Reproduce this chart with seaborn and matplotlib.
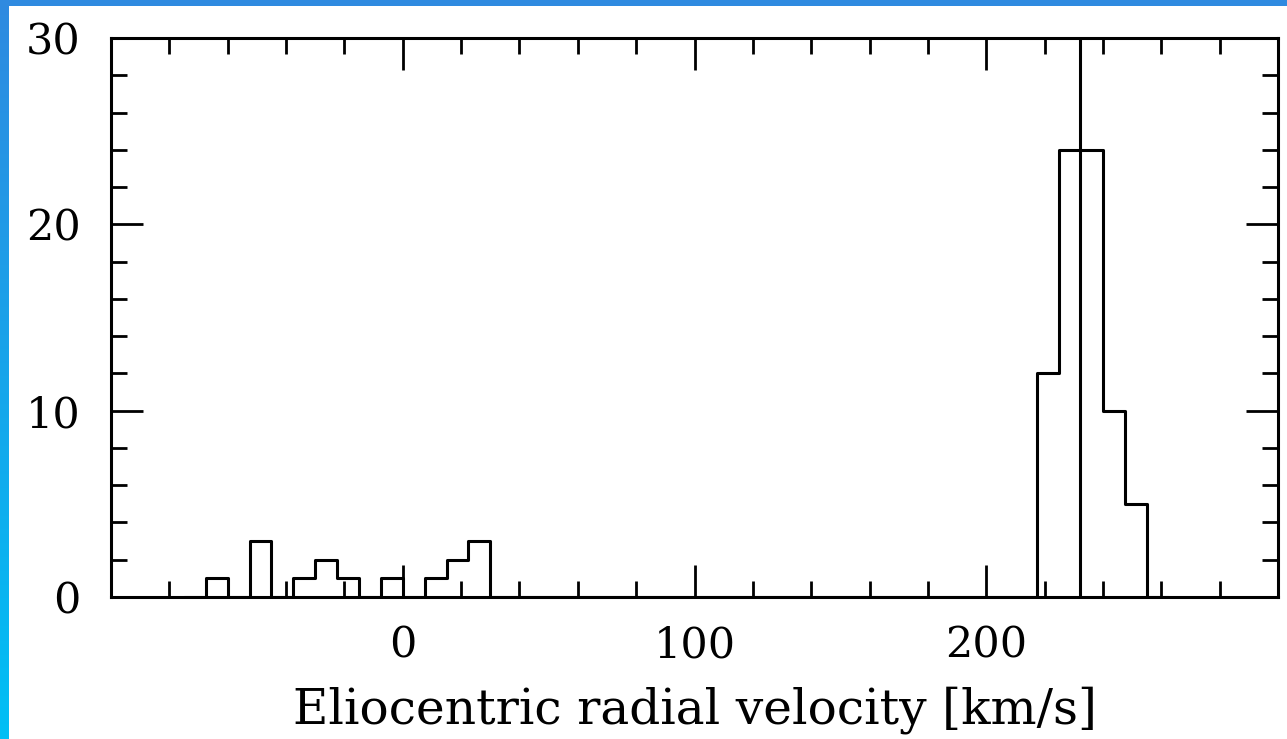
import numpy as np
import matplotlib
matplotlib.use("Agg")
import matplotlib.pyplot as plt
import seaborn as sns
from matplotlib.ticker import FixedLocator, MultipleLocator
from matplotlib.patches import Rectangle
import matplotlib.colors as mcolors

# ---- data ----
velocity_bin_centers = [-63.75, -48.75, -33.75, -26.25, -18.75, -3.75, 11.25, 18.75, 26.25,
                        221.25, 228.75, 236.25, 243.75, 251.25]
star_counts = [1, 3, 1, 2, 1, 1, 1, 2, 3, 12, 24, 24, 10, 5]
bin_width = 7.5
bin_range = (-75.0, 262.5)
systemic_velocity = 232.0
x_major_ticks = [0, 100, 200]
y_major_ticks = [0, 10, 20, 30]
x_label = "Eliocentric radial velocity [km/s]"

sns.set_theme(style="white")
plt.rcParams["font.family"] = ["DejaVu Serif"]

W, H = 1287, 739
fig = plt.figure(figsize=(W / 100, H / 100), dpi=100, facecolor="white")

# decorative blue frame (top strip and left gradient strip)
top_c = np.array(mcolors.to_rgb("#2f8ae0"))
bot_c = np.array(mcolors.to_rgb("#00bff5"))
fig.patches.append(Rectangle((0, 1 - 6 / H), 1, 6 / H, transform=fig.transFigure,
                             facecolor=top_c, edgecolor="none", zorder=0))
strip = fig.add_axes([0, 0, 9 / W, 1], zorder=-5)
t = np.linspace(0, 1, 256)[:, None, None]
grad = top_c[None, None, :] * (1 - t) + bot_c[None, None, :] * t
strip.imshow(grad, aspect="auto", extent=(0, 1, 0, 1), origin="upper")
strip.axis("off")

ax = fig.add_axes([111 / W, 1 - 597 / H, (1278 - 111) / W, (597 - 38) / H])
ax.set_facecolor("white")

sns.histplot(x=velocity_bin_centers, weights=star_counts, binwidth=bin_width,
             binrange=bin_range, element="step", fill=False, color="black",
             linewidth=2.2, ax=ax)
ax.axvline(systemic_velocity, color="black", linewidth=2.2)

ax.set_xlim(-100, 300)
ax.set_ylim(0, 30)
ax.xaxis.set_major_locator(FixedLocator(x_major_ticks))
ax.xaxis.set_minor_locator(MultipleLocator(20))
ax.yaxis.set_major_locator(FixedLocator(y_major_ticks))
ax.yaxis.set_minor_locator(MultipleLocator(2))

for s in ax.spines.values():
    s.set_visible(True)
    s.set_color("black")
    s.set_linewidth(2.2)

ax.tick_params(which="both", direction="in", top=True, right=True, bottom=True, left=True,
               color="black", width=2.0, labelcolor="black")
ax.tick_params(which="major", length=23, labelsize=31)
ax.tick_params(which="minor", length=11.5)
ax.tick_params(axis="y", which="major", pad=22)
ax.tick_params(axis="x", which="major", pad=20)

ax.set_ylabel("")
ax.set_xlabel(x_label, fontsize=35, color="black", labelpad=14)

fig.savefig("out.png", dpi=100, facecolor="white")
